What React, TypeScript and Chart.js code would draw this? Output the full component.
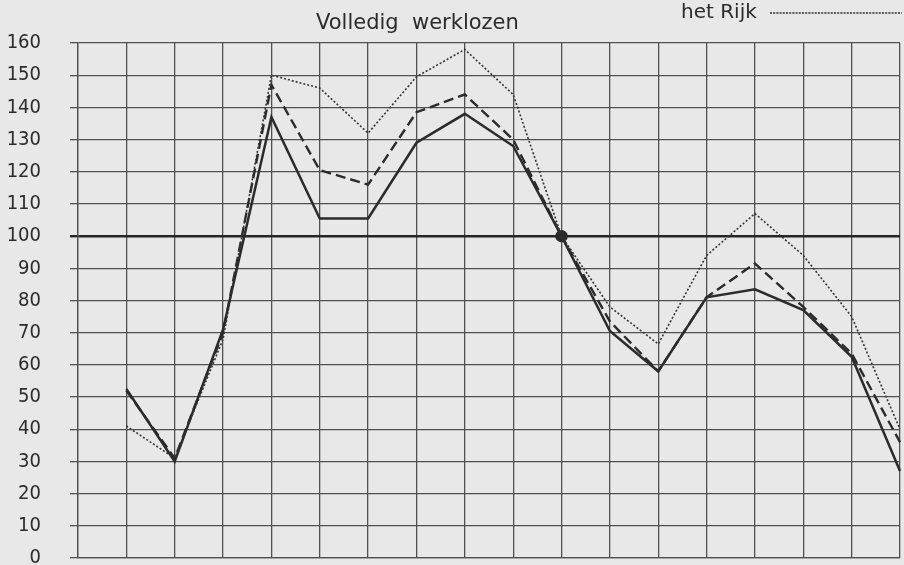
import React, { useEffect, useRef } from "react";
import { Chart, registerables } from "chart.js";

Chart.register(...registerables);

// Categories: grid columns (index 0 is the left edge, no data)
const periods: string[] = ["", "1", "2", "3", "4", "5", "6", "7", "8", "9", "10", "11", "12", "13", "14", "15", "16", "17"];

// Series values (index, base = 100)
const solidSeries: (number | null)[] = [null, 52.5, 30, 71, 137, 105.5, 105.5, 129, 138, 128, 100, 70.5, 58, 81, 83.5, 77, 62.5, 27];
const dashedSeries: (number | null)[] = [null, 52, 31, 70, 147, 120.5, 116, 138.5, 144, 130, 100, 73.5, 58, 81, 91.5, 78, 63.5, 36];
const rijkSeries: (number | null)[] = [null, 41, 31, 68, 150, 146, 132, 149.5, 158, 144, 100, 78, 66.5, 94, 107, 94, 75, 40];

const yMin = 0;
const yMax = 160;
const yStep = 10;

const titleText = "Volledig  werklozen";
const legendText = "het Rijk";

const INK = "#2b2b2b";

const textPlugin = {
  id: "textPlugin",
  afterDraw(chart: any) {
    const ctx = chart.ctx;
    ctx.save();
    ctx.fillStyle = INK;
    ctx.textBaseline = "alphabetic";
    ctx.font = "21px 'DejaVu Sans', sans-serif";
    ctx.textAlign = "left";
    ctx.fillText(titleText, 316, 29);
    ctx.font = "20px 'DejaVu Sans', sans-serif";
    ctx.fillText(legendText, 681, 18);
    ctx.strokeStyle = INK;
    ctx.lineWidth = 1.6;
    ctx.setLineDash([2, 1.2]);
    ctx.beginPath();
    ctx.moveTo(770, 13);
    ctx.lineTo(902, 13);
    ctx.stroke();
    ctx.restore();
  },
};

export default function App() {
  const canvasRef = useRef<HTMLCanvasElement | null>(null);

  useEffect(() => {
    if (!canvasRef.current) return;
    const chart = new Chart(canvasRef.current, {
      type: "line",
      data: {
        labels: periods,
        datasets: [
          {
            label: legendText,
            data: rijkSeries,
            borderColor: "#333333",
            borderWidth: 1.6,
            borderDash: [2, 2],
            pointRadius: 0,
            tension: 0,
            fill: false,
          },
          {
            label: "dashed",
            data: dashedSeries,
            borderColor: INK,
            borderWidth: 2.4,
            borderDash: [10, 5],
            pointRadius: 0,
            tension: 0,
            fill: false,
          },
          {
            label: "solid",
            data: solidSeries,
            borderColor: INK,
            borderWidth: 2.5,
            pointRadius: (c: any) => (c.dataIndex === 10 ? 5 : 0),
            pointBackgroundColor: INK,
            pointBorderColor: INK,
            tension: 0,
            fill: false,
          },
        ],
      },
      options: {
        animation: false,
        responsive: false,
        maintainAspectRatio: false,
        layout: { padding: { top: 43, bottom: 7, left: 0, right: 4 } },
        plugins: {
          legend: { display: false },
          title: { display: false },
          tooltip: { enabled: false },
        },
        scales: {
          x: {
            type: "category",
            offset: false,
            grid: {
              color: "#505050",
              lineWidth: 1.3,
              drawTicks: false,
            },
            border: { color: "#505050", width: 1.3 },
            ticks: { display: false },
            afterFit: (s: any) => {
              s.height = 0;
              s.paddingLeft = 0;
              s.paddingRight = 0;
            },
          },
          y: {
            min: yMin,
            max: yMax,
            grid: {
              color: (c: any) => (c.tick && c.tick.value === 100 ? "#262626" : "#505050"),
              lineWidth: (c: any) => (c.tick && c.tick.value === 100 ? 2.4 : 1.3),
              drawTicks: true,
              tickLength: 8,
            },
            border: { color: "#505050", width: 1.3 },
            ticks: {
              stepSize: yStep,
              padding: 29,
              color: INK,
              font: { family: "'DejaVu Sans Condensed', 'Liberation Sans Narrow', sans-serif", size: 20 },
            },
            afterFit: (s: any) => {
              s.width = 78;
              s.paddingTop = 0;
              s.paddingBottom = 0;
            },
          },
        },
      },
      plugins: [textPlugin],
    });
    return () => chart.destroy();
  }, []);

  return (
    <div
      style={{
        position: "fixed",
        left: 0,
        top: 0,
        width: 904,
        height: 565,
        background: "#e8e8e8",
        overflow: "hidden",
      }}
    >
      <canvas ref={canvasRef} width={904} height={565} style={{ width: 904, height: 565, display: "block" }} />
    </div>
  );
}
